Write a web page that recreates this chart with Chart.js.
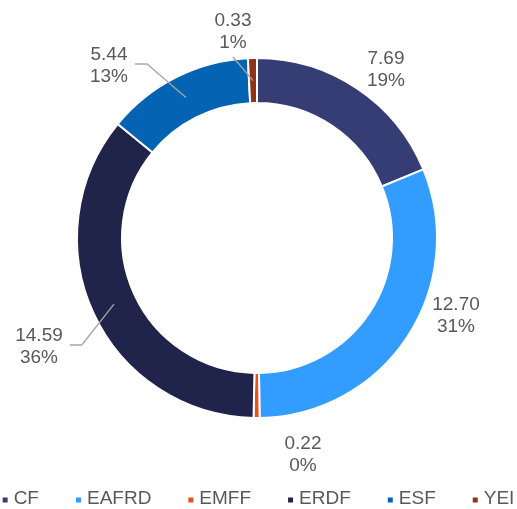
<!DOCTYPE html>
<html>
<head>
<meta charset="utf-8">
<script src="https://cdn.jsdelivr.net/npm/chart.js@4.4.0/dist/chart.umd.min.js"></script>
<style>
    html, body { margin: 0; padding: 0; background: #ffffff; }
    #wrap { width: 517px; height: 509px; position: relative; }
</style>
</head>
<body>
<div id="wrap"><canvas id="fundChart"></canvas></div>
<script>
// =============================================
// DATA
// =============================================
const fundLabels = ['CF', 'EAFRD', 'EMFF', 'ERDF', 'ESF', 'YEI'];
const fundValues = [7.69, 12.70, 0.22, 14.59, 5.44, 0.33];
const fundShares = ['19%', '31%', '0%', '36%', '13%', '1%'];

const fundColors = ['#363c74', '#339cff', '#e8531d', '#20234a', '#0563b3', '#8f3316'];

// label block offset from doughnut centre, and leader style
const labelPlacement = [
    { dx: 129, dy: -168, leader: 'none' },
    { dx: 199, dy: 78, leader: 'none' },
    { dx: 46, dy: 217, leader: 'none' },
    { dx: -218, dy: 109, leader: 'elbow' },
    { dx: -148, dy: -172, leader: 'elbow' },
    { dx: -24, dy: -206, leader: 'down' }
];

const textColor = '#595959';
const fontFamily = 'Arial, "Liberation Sans", sans-serif';
const fontSize = 19;

// Data labels with leader lines
const sliceLabels = {
    id: 'sliceLabels',
    afterDatasetsDraw(chart) {
        const ctx = chart.ctx;
        const arcs = chart.getDatasetMeta(0).data;
        ctx.save();
        ctx.font = fontSize + 'px ' + fontFamily;
        ctx.textAlign = 'center';
        ctx.textBaseline = 'middle';
        arcs.forEach((arc, i) => {
            const p = arc.getProps(['x', 'y', 'startAngle', 'endAngle', 'innerRadius', 'outerRadius'], true);
            const place = labelPlacement[i];
            const cx = p.x + place.dx;
            const cy = p.y + place.dy;
            const line1 = fundValues[i].toFixed(2);
            const line2 = fundShares[i];

            // leader line
            if (place.leader !== 'none') {
                const mid = (p.startAngle + p.endAngle) / 2;
                const midR = (p.innerRadius + p.outerRadius) / 2;
                const ex = p.x + Math.cos(mid) * midR;
                const ey = p.y + Math.sin(mid) * midR;
                ctx.strokeStyle = '#a6a6a6';
                ctx.lineWidth = 1.3;
                ctx.beginPath();
                if (place.leader === 'elbow') {
                    const w = Math.max(ctx.measureText(line1).width, ctx.measureText(line2).width);
                    const sx = cx + w / 2 + 7;
                    const sy = cy - 2;
                    ctx.moveTo(sx, sy);
                    ctx.lineTo(sx + 12, sy);
                } else {
                    ctx.moveTo(cx, cy + 25);
                }
                ctx.lineTo(ex, ey);
                ctx.stroke();
            }

            ctx.fillStyle = textColor;
            ctx.fillText(line1, cx, cy - 11);
            ctx.fillText(line2, cx, cy + 11);
        });
        ctx.restore();
    }
};

// Legend drawn along the bottom
const bottomLegend = {
    id: 'bottomLegend',
    afterDraw(chart) {
        const ctx = chart.ctx;
        const box = 5, boxGap = 6, itemGap = 37;
        const y = 499;
        ctx.save();
        ctx.font = fontSize + 'px ' + fontFamily;
        ctx.textBaseline = 'middle';
        ctx.textAlign = 'left';
        const widths = fundLabels.map(l => box + boxGap + ctx.measureText(l).width);
        const total = widths.reduce((a, b) => a + b, 0) + itemGap * (fundLabels.length - 1);
        let x = (chart.width - total) / 2;
        fundLabels.forEach((label, i) => {
            ctx.fillStyle = fundColors[i];
            ctx.fillRect(x, y - box / 2 + 1, box, box);
            ctx.fillStyle = textColor;
            ctx.fillText(label, x + box + boxGap, y);
            x += widths[i] + itemGap;
        });
        ctx.restore();
    }
};

const ctxFund = document.getElementById('fundChart').getContext('2d');
const fundChart = new Chart(ctxFund, {
    type: 'doughnut',
    data: {
        labels: fundLabels,
        datasets: [{
            data: fundValues,
            backgroundColor: fundColors,
            borderColor: '#ffffff',
            borderWidth: 2
        }]
    },
    options: {
        responsive: true,
        maintainAspectRatio: false,
        animation: false,
        cutout: '75%',
        layout: { padding: { left: 76, right: 79, top: 57, bottom: 90 } },
        plugins: {
            legend: { display: false },
            tooltip: { enabled: false }
        }
    },
    plugins: [sliceLabels, bottomLegend]
});
</script>
</body>
</html>
